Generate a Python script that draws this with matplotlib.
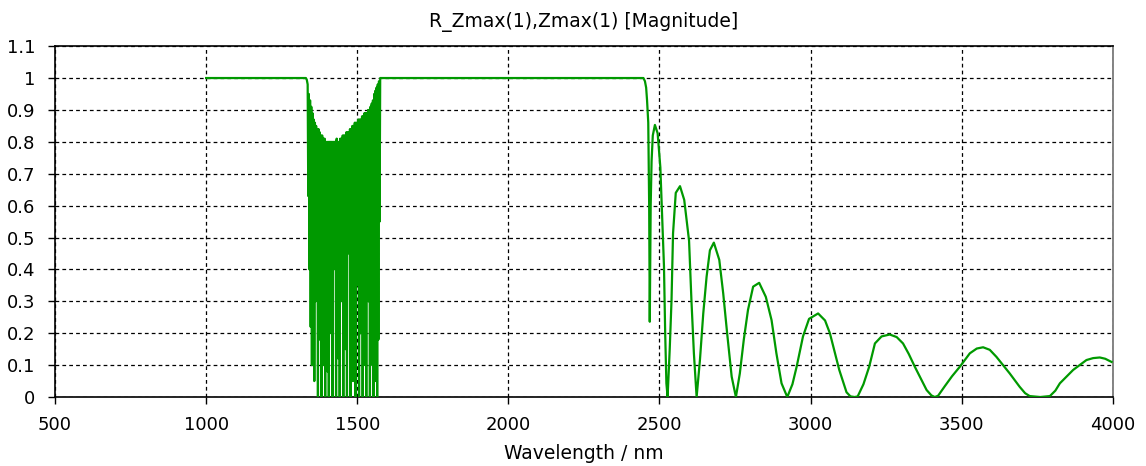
import matplotlib
matplotlib.use("Agg")
import matplotlib.pyplot as plt
from matplotlib.ticker import FuncFormatter

# flat start before the first stop band
start_wl = [1000, 1330, 1333]
start_r = [1.0, 1.0, 0.995]

# dense oscillating stop band, sampled every 2 nm from 1336 to 1576:
# peaks (1336, 1340, ...) and troughs (1338, 1342, ...) read off the picture
band_peak_r = [0.98, 0.95, 0.93, 0.91, 0.89, 0.87, 0.86, 0.85, 0.84, 0.84,
               0.83, 0.82, 0.82, 0.81, 0.81, 0.80, 0.80, 0.80, 0.80, 0.80,
               0.80, 0.80, 0.80, 0.80, 0.81, 0.80, 0.80, 0.81, 0.81, 0.82,
               0.82, 0.82, 0.83, 0.83, 0.83, 0.84, 0.84, 0.85, 0.85, 0.86,
               0.86, 0.86, 0.87, 0.87, 0.87, 0.88, 0.88, 0.89, 0.89, 0.89,
               0.90, 0.90, 0.91, 0.92, 0.93, 0.95, 0.96, 0.97, 0.98, 0.99,
               1.00]
band_trough_r = [0.63, 0.40, 0.22, 0.10, 0.40, 0.05, 0.30, 0.60, 0.00, 0.18,
                 0.45, 0.00, 0.70, 0.10, 0.00, 0.55, 0.08, 0.00, 0.72, 0.20,
                 0.00, 0.40, 0.65, 0.00, 0.75, 0.12, 0.00, 0.50, 0.30, 0.00,
                 0.68, 0.15, 0.00, 0.45, 0.62, 0.00, 0.25, 0.05, 0.70, 0.00,
                 0.35, 0.55, 0.00, 0.20, 0.75, 0.00, 0.45, 0.10, 0.00, 0.60,
                 0.30, 0.00, 0.50, 0.10, 0.00, 0.40, 0.05, 0.00, 0.18, 0.55]

# plateau and the long-wavelength fringes
tail_wl = [1580, 2447, 2452, 2456, 2459, 2463, 2466, 2468, 2471, 2474,
           2478, 2485, 2494, 2503, 2509, 2515, 2519, 2523, 2527,
           2534, 2540, 2545, 2554, 2568, 2582, 2598, 2606, 2614, 2623,
           2634, 2645, 2656, 2667, 2680, 2698, 2711, 2724, 2739, 2753,
           2766, 2779, 2793, 2810, 2830, 2852, 2871, 2887, 2904, 2923,
           2940, 2954, 2975, 2995, 3025, 3048, 3064, 3080, 3095, 3119,
           3132, 3146, 3156,
           3175, 3194, 3213, 3235, 3262, 3285, 3306, 3325, 3345, 3384,
           3400, 3411, 3422,
           3445, 3468, 3494, 3527, 3550, 3571, 3593, 3615, 3637, 3659,
           3692, 3710, 3725, 3760, 3792,
           3810, 3825, 3869, 3913, 3935, 3957, 3975, 3996]
tail_r = [1.0, 1.0, 0.99, 0.97, 0.93, 0.86, 0.60, 0.236, 0.60, 0.74,
          0.82, 0.853, 0.827, 0.72, 0.565, 0.41, 0.20, 0.043, 0.0,
          0.15, 0.304, 0.513, 0.64, 0.661, 0.618, 0.49, 0.30, 0.137, 0.0,
          0.116, 0.262, 0.377, 0.46, 0.484, 0.43, 0.325, 0.20, 0.064, 0.0,
          0.074, 0.179, 0.273, 0.346, 0.358, 0.314, 0.241, 0.137, 0.043, 0.0,
          0.04, 0.095, 0.19, 0.245, 0.262, 0.24, 0.20, 0.14, 0.085, 0.015,
          0.002, 0.0, 0.002,
          0.04, 0.095, 0.168, 0.19, 0.196, 0.188, 0.168, 0.135, 0.095, 0.022,
          0.005, 0.0, 0.004,
          0.035, 0.065, 0.095, 0.137, 0.152, 0.156, 0.148, 0.126, 0.10, 0.074,
          0.032, 0.012, 0.003, 0.0, 0.003,
          0.02, 0.043, 0.085, 0.116, 0.122, 0.124, 0.12, 0.11]

x_ticks = [500, 1000, 1500, 2000, 2500, 3000, 3500, 4000]
y_ticks = [0, 0.1, 0.2, 0.3, 0.4, 0.5, 0.6, 0.7, 0.8, 0.9, 1.0, 1.1]

# build the band: peak, trough, peak, trough ... every 2 nm
band_wl = list(range(1336, 1577, 2))
band_r = []
for i in range(len(band_trough_r)):
    band_r.append(band_peak_r[i])
    band_r.append(band_trough_r[i])
band_r.append(band_peak_r[-1])

wavelength = start_wl + band_wl + tail_wl
reflect = start_r + band_r + tail_r

plt.rcParams['font.family'] = ['DejaVu Sans']

fig = plt.figure(figsize=(11.46, 4.66), dpi=100)
ax = fig.add_axes([0.048, 0.148, 0.923, 0.753])

ax.plot(wavelength, reflect, color='#009900', linewidth=1.6, zorder=3)

ax.set_xlim(500, 4000)
ax.set_ylim(0, 1.1)
ax.set_xticks(x_ticks)
ax.set_yticks(y_ticks)
ax.yaxis.set_major_formatter(FuncFormatter(lambda v, p: f"{v:g}"))

ax.grid(True, color='black', linestyle=(0, (3, 2.5)), linewidth=0.9)
ax.tick_params(direction='out', length=5, width=1, labelsize=13, colors='black')
ax.tick_params(axis='x', pad=9)
ax.tick_params(axis='y', pad=9)

for side in ['left', 'bottom', 'top']:
    ax.spines[side].set_color('black')
    ax.spines[side].set_linewidth(1.2)
ax.spines['right'].set_color('#707070')
ax.spines['right'].set_linewidth(1.2)

ax.set_title('R_Zmax(1),Zmax(1) [Magnitude]', fontsize=13.5, pad=14)
ax.set_xlabel('Wavelength / nm', fontsize=13.5, labelpad=7)

fig.savefig('out.png', dpi=100)
